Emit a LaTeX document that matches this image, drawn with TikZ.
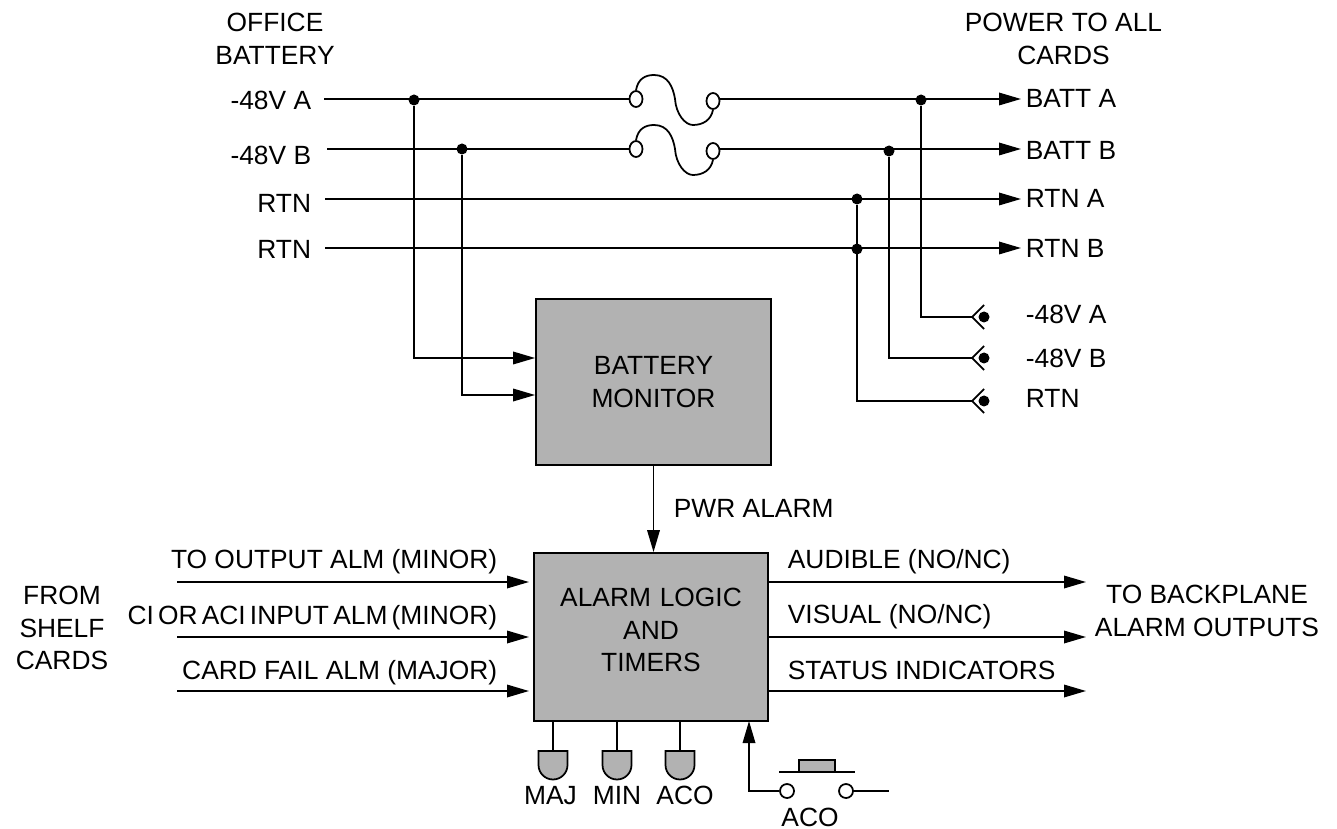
\documentclass[tikz,border=0pt]{standalone}
\usepackage{fontspec}
\setmainfont{Liberation Sans}
\usetikzlibrary{arrows.meta,shapes}
\definecolor{boxgray}{HTML}{B2B2B2}
\newcommand{\txtsize}{\fontsize{7.5}{9.36}\selectfont}

\begin{document}
\begin{tikzpicture}[line width=0.5pt,
    sig/.style={-{Triangle[length=2.2mm,width=1.25mm]}},
    lbl/.style={font=\txtsize, inner sep=0pt, text height=1.88mm, text depth=0pt},
    multi/.style={font=\txtsize, inner sep=0pt, align=center},
    block/.style={draw, fill=boxgray, inner sep=0pt, align=center, font=\txtsize},
    dot/.style={circle, fill=black, inner sep=0pt, minimum size=1.1mm},
    lug/.style={draw, fill=white, ellipse, inner sep=0pt, minimum width=1.3mm, minimum height=1.6mm},
    ring/.style={draw, fill=white, circle, inner sep=0pt, minimum size=1.4mm}]
    \useasboundingbox (0,0) rectangle (13.37,-8.29);

    % Headings
    \node[multi] (office) at (2.75,-0.385) {OFFICE\\BATTERY};
    \node[multi] (power) at (10.635,-0.39) {POWER TO ALL\\CARDS};

    % Supply lines, left end
    \node[lbl, anchor=east] (inA) at (3.12,-1.00) {-48V A};
    \node[lbl, anchor=east] (inB) at (3.12,-1.55) {-48V B};
    \node[lbl, anchor=east] (inC) at (3.12,-2.03) {RTN};
    \node[lbl, anchor=east] (inD) at (3.12,-2.49) {RTN};
    \coordinate (startA) at (3.24,-0.99);
    \coordinate (startB) at (3.27,-1.49);
    \coordinate (startC) at (3.25,-1.99);
    \coordinate (startD) at (3.25,-2.48);

    % Supply lines, right end
    \node[lbl, anchor=west] (battA) at (10.25,-0.98) {BATT A};
    \node[lbl, anchor=west] (battB) at (10.25,-1.505) {BATT B};
    \node[lbl, anchor=west] (rtnA) at (10.25,-1.98) {RTN A};
    \node[lbl, anchor=west] (rtnB) at (10.25,-2.48) {RTN B};
    \coordinate (endA) at (10.21,-0.99);
    \coordinate (endB) at (10.21,-1.49);
    \coordinate (endC) at (10.21,-1.99);
    \coordinate (endD) at (10.21,-2.48);

    % Fuses
    \foreach \fuse/\y in {A/-0.99, B/-1.49} {
        \node[lug] (\fuse left) at (6.36,\y) {};
        \node[lug] (\fuse right) at (7.13,\y-0.02) {};
        \draw (\fuse left.north) .. controls (6.38,\y+0.20) and (6.45,\y+0.24) .. (6.54,\y+0.24)
            .. controls (6.68,\y+0.24) and (6.73,\y+0.12) .. (6.75,\y)
            .. controls (6.76,\y-0.15) and (6.85,\y-0.26) .. (6.93,\y-0.26)
            .. controls (7.03,\y-0.26) and (7.11,\y-0.21) .. (\fuse right.south);
    }

    % Taps
    \node[dot] (tapA) at (4.14,-1.00) {};
    \node[dot] (tapB) at (4.62,-1.49) {};
    \node[dot] (tapC) at (9.21,-1.00) {};
    \node[dot] (tapD) at (8.89,-1.51) {};
    \node[dot] (tapE) at (8.57,-1.99) {};
    \node[dot] (tapF) at (8.57,-2.49) {};

    \draw (startA) -- (Aleft);
    \draw (startB) -- (Bleft);
    \draw[sig] (Aright.east |- endA) -- (endA);
    \draw[sig] (Bright.east |- endB) -- (endB);
    \draw[sig] (startC) -- (endC);
    \draw[sig] (startD) -- (endD);

    % Battery monitor
    \node[block, minimum width=2.35cm, minimum height=1.66cm] (monitor) at (6.535,-3.82) {BATTERY\\MONITOR};
    \draw[sig] (tapA) |- ([yshift=0.24cm]monitor.west);
    \draw[sig] (tapB) |- ([yshift=-0.13cm]monitor.west);

    % Test jacks
    \foreach \jack/\tap/\y in {one/tapC/-3.17, two/tapD/-3.58, three/tapE/-4.01} {
        \coordinate (\jack) at (9.72,\y);
        \node[dot] (\jack dot) at (9.84,\y) {};
        \draw (\tap) |- (\jack);
        \draw (9.84,\y+0.12) -- (\jack) -- (9.84,\y-0.12);
    }
    \node[lbl, anchor=west] (jackA) at (10.25,-3.14) {-48V A};
    \node[lbl, anchor=west] (jackB) at (10.25,-3.58) {-48V B};
    \node[lbl, anchor=west] (jackC) at (10.25,-3.98) {RTN};

    % Alarm logic
    \node[block, minimum width=2.34cm, minimum height=1.68cm] (logic) at (6.51,-6.37) {};
    \node[multi, text width=2.34cm] (logictxt) at (6.51,-6.30) {ALARM LOGIC\\AND\\TIMERS};
    \draw[sig] (monitor.south) -- (monitor.south |- logic.north);
    \node[lbl, anchor=west] (pwr) at (6.73,-5.08) {PWR ALARM};

    % Inputs
    \foreach \name/\y/\ty/\txt in {inone/-5.82/-5.59/TO OUTPUT ALM (MINOR), intwo/-6.37/-6.15/{\spaceskip=1.2pt CI OR ACI INPUT ALM (MINOR)}, inthree/-6.91/-6.70/CARD FAIL ALM (MAJOR)} {
        \coordinate (\name) at (1.77,\y);
        \coordinate (\name end) at (5.29,\y);
        \node[lbl, anchor=east] (\name txt) at (4.98,\ty) {\txt};
        \draw[sig] (\name) -- (\name end);
    }
    \node[multi] (shelf) at (0.62,-6.28) {FROM\\SHELF\\CARDS};

    % Outputs
    \foreach \name/\y/\ty/\txt in {outone/-5.82/-5.59/{AUDIBLE (NO/NC)}, outtwo/-6.37/-6.14/{VISUAL (NO/NC)}, outthree/-6.91/-6.70/STATUS INDICATORS} {
        \coordinate (\name) at (10.86,\y);
        \node[lbl, anchor=west] (\name txt) at (7.87,\ty) {\txt};
        \draw[sig] (\name -| logic.east) -- (\name);
    }
    \node[multi] (backplane) at (12.07,-6.11) {TO BACKPLANE\\ALARM OUTPUTS};

    % Lamps
    \foreach \lamp/\x/\tx/\txt in {maj/5.53/5.505/MAJ, min/6.17/6.17/MIN, aco/6.80/6.85/ACO} {
        \coordinate (\lamp) at (\x,-7.51);
        \draw (\lamp) -- (\lamp |- logic.south);
        \draw[fill=boxgray] (\x-0.145,-7.51) -- (\x+0.145,-7.51) -- (\x+0.145,-7.65)
            arc[start angle=0, end angle=-180, radius=0.145] -- cycle;
        \node[lbl] (\lamp txt) at (\tx,-7.95) {\txt};
    }

    % Push button
    \node[ring] (pushL) at (7.87,-7.91) {};
    \node[ring] (pushR) at (8.46,-7.91) {};
    \coordinate (pushend) at (8.89,-7.91);
    \coordinate (pushin) at (7.49,-7.21);
    \draw[sig] (pushL) -| (pushin);
    \draw (pushR) -- (pushend);
    \draw (7.79,-7.72) -- (8.55,-7.72);
    \draw[fill=boxgray] (7.99,-7.60) rectangle (8.35,-7.72);
    \node[lbl] (pushtxt) at (8.10,-8.17) {ACO};
\end{tikzpicture}
\end{document}
